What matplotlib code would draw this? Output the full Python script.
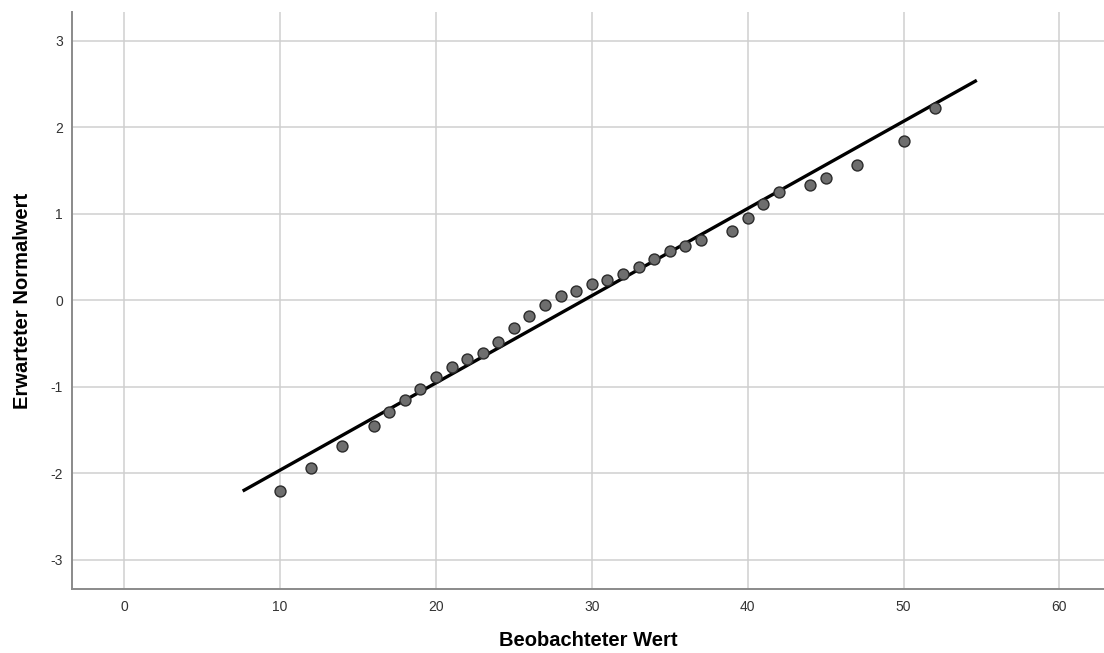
import matplotlib
matplotlib.use("Agg")
import matplotlib.pyplot as plt
import numpy as np

plt.rcParams["font.family"] = ["Liberation Sans", "DejaVu Sans"]
plt.rcParams["axes.unicode_minus"] = False

observed = [10, 12, 14, 16, 17, 18, 19, 20, 21, 22, 23, 24, 25, 26, 27, 28,
            29, 30, 31, 32, 33, 34, 35, 36, 37, 39, 40, 41, 42, 44, 45, 47,
            50, 52]
expected = [-2.21, -1.94, -1.69, -1.46, -1.29, -1.15, -1.03, -0.89, -0.77,
            -0.68, -0.61, -0.49, -0.32, -0.18, -0.06, 0.05, 0.10, 0.18, 0.23,
            0.30, 0.38, 0.47, 0.57, 0.63, 0.69, 0.80, 0.95, 1.11, 1.25, 1.33,
            1.41, 1.56, 1.84, 2.22]

# reference line of the normal distribution
line_mean = 29.5
line_sd = 9.92
line_x = [7.6, 54.7]

x_ticks = [0, 10, 20, 30, 40, 50, 60]
y_ticks = [-3, -2, -1, 0, 1, 2, 3]

fig = plt.figure(figsize=(11.04, 6.53), dpi=100)
ax = fig.add_axes([72 / 1104, 1 - 589 / 653, 1 - 72 / 1104, (589 - 12) / 653])

lx = np.array(line_x)
ax.plot(lx, (lx - line_mean) / line_sd, color="black", lw=2.4, zorder=3,
        solid_capstyle="butt")
ax.scatter(observed, expected, s=62, color="#6e6e6e", edgecolor="#2b2b2b",
           linewidth=1.0, zorder=4)

ax.set_xlim(-3.35, 62.86)
ax.set_ylim(-3.34, 3.33)
ax.set_xticks(x_ticks)
ax.set_yticks(y_ticks)
ax.grid(True, color="#cfcfcf", linewidth=1.1)
ax.set_axisbelow(True)

for side in ["top", "right"]:
    ax.spines[side].set_visible(False)
for side in ["left", "bottom"]:
    ax.spines[side].set_color("#8a8a8a")
    ax.spines[side].set_linewidth(1.4)

ax.tick_params(axis="both", length=0, labelsize=10, colors="#333333")
ax.tick_params(axis="x", pad=8)
ax.tick_params(axis="y", pad=6.5)

ax.set_xlabel("Beobachteter Wert", fontsize=14.5, fontweight="bold",
              va="center")
ax.set_ylabel("Erwarteter Normalwert", fontsize=14.5, fontweight="bold",
              va="center")
ax.xaxis.set_label_coords(0.5, -0.090)
ax.yaxis.set_label_coords(-0.0475, 0.5)

fig.savefig("out.png", dpi=100)
